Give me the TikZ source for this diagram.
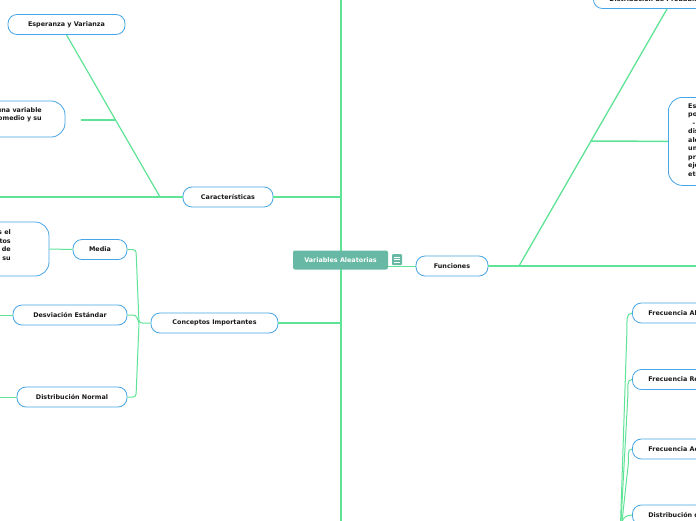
\documentclass[tikz,border=0pt]{standalone}
\usepackage{fontspec}
\setmainfont{DejaVu Sans}
\begin{document}
\begin{tikzpicture}[x=1pt,y=-1pt,
  font=\fontsize{6.4}{8.5}\selectfont\bfseries,
  link/.style={draw=lgreen,line width=1.2pt},
  thin link/.style={draw=lgreen,line width=1pt},
  topic/.style={draw=nblue,line width=0.8pt,fill=white,rounded corners=9pt,minimum height=20pt,inner xsep=16pt,inner ysep=0pt,text=black!90},
  bigbox/.style={draw=nblue,line width=0.8pt,fill=white,rounded corners=14pt},
  central/.style={fill=cteal,rounded corners=2pt,text=white,minimum height=19pt,minimum width=95pt,inner sep=0pt}
]
\definecolor{lgreen}{RGB}{95,227,150}
\definecolor{nblue}{RGB}{70,165,230}
\definecolor{cteal}{RGB}{103,185,165}
\useasboundingbox (0,0) rectangle (696,520);
\clip (0,0) rectangle (696,520);
\fill[white] (0,0) rectangle (696,520);

% coordinates
\coordinate (stemtop) at (341,-10);
\coordinate (stembot) at (341,530);
\coordinate (jcar) at (341,197);
\coordinate (jcon) at (341,323);
\coordinate (leftend) at (-5,197);
\coordinate (bcar) at (160,197);
\coordinate (besp) at (115,120);
\coordinate (gapend) at (81,120);
\coordinate (rightend) at (705,266);
\coordinate (bfun) at (519,266);
\coordinate (bdesc) at (591,141);
\coordinate (fstart) at (388,266);
\coordinate (fbase) at (620,540);

% main stem
\draw[link,line width=1.4pt] (stemtop) -- (stembot);

% connector root -> Funciones (under the icon)
\draw[thin link,line width=1pt] (fstart) -- (416,266);

% nodes
\node[central] (root) at (340.5,260) {Variables Aleatorias};
\node[fill=cteal,rounded corners=1pt,minimum width=10pt,minimum height=11pt,inner sep=0pt] (icon) at (397,259.5) {};
\foreach \yy in {-2.5,0,2.5}{\draw[white,line width=0.6pt] ([xshift=-2.8pt,yshift=\yy pt]icon.center) -- ([xshift=2.8pt,yshift=\yy pt]icon.center);}

\node[topic,minimum width=90pt] (car) at (228,197) {Características};
\node[topic,minimum width=127pt] (conc) at (214.5,323) {Conceptos Importantes};
\node[topic,minimum width=72pt] (fun) at (452,266) {Funciones};
\node[topic,minimum width=117pt] (esp) at (66.5,24.5) {Esperanza y Varianza};
\node[topic,minimum width=54pt] (media) at (100,249.5) {Media};
\node[topic,minimum width=114pt] (desv) at (70,315) {Desviación Estándar};
\node[topic,minimum width=110pt] (dnorm) at (72,397) {Distribución Normal};

% clipped boxes on the left
\node[bigbox,minimum width=120pt,minimum height=36pt] (espdesc) at (5,119) {};
\node[align=right,anchor=east,inner sep=0pt,text=black!90] (espdesctxt) at (42,115) {Es una variable\\el promedio y su};
\node[bigbox,minimum width=110pt,minimum height=54pt] (mediadesc) at (-6,249) {};
\node[align=right,anchor=east,inner sep=0pt,text=black!90] (mediadesctxt) at (11,246) {es el\\datos\\de\\y su};

% clipped nodes on the right
\node[topic,anchor=west,minimum width=150pt,text width=118pt,align=left] (dprob) at (593,-1.5) {Distribución de Probabilidad};
\node[bigbox,anchor=north west,minimum width=150pt,minimum height=88pt] (fdesc) at (668,97) {};
\node[anchor=north west,align=left,inner sep=0pt,text=black!90] (fdesctxt) at (688,103) {Es la función que\\posibles valores\\\ \ - de la\\distribución de\\aleatoria, es\\una\\probabilidad\\ejemplo\\etc.};
\node[topic,anchor=west,minimum width=150pt,text width=118pt,align=left] (fa) at (632,313) {Frecuencia Absoluta};
\node[topic,anchor=west,minimum width=150pt,text width=118pt,align=left] (fr) at (632,379.5) {Frecuencia Relativa};
\node[topic,anchor=west,minimum width=150pt,text width=118pt,align=left] (fac) at (632,449) {Frecuencia Acumulada};
\node[topic,anchor=west,minimum width=150pt,text width=118pt,align=left] (dfrec) at (632,515) {Distribución de Frecuencias};

% connectors: root
\draw[link,rounded corners=3pt] (car.east) -- (jcar);
\draw[link,rounded corners=3pt] (conc.east) -- (jcon);

% Caracteristicas branch
\draw[link] (car.west) -- (leftend);
\draw[link] (bcar) -- (esp.south);
\draw[link] (besp) -- (gapend);

% Conceptos branch
\draw[thin link,rounded corners=3pt] (media.east) -- (136,249.5) -- (139,323) -- (conc.west);
\draw[thin link,rounded corners=3pt] (desv.east) -- (136,315) -- (139,323);
\draw[thin link,rounded corners=3pt] (dnorm.east) -- (136,397) -- (139,323);
\draw[thin link] (media.west) -- (mediadesc.east);
\draw[thin link] (desv.west) -- (-5,315);
\draw[thin link] (dnorm.west) -- (-5,397);

% Funciones branch
\draw[link,line width=2pt] (fun.east) -- (rightend);
\draw[link,line width=1.3pt] (bfun) -- (667,9);
\draw[link,line width=1.5pt] (bdesc) -- (fdesc.west);

% frecuencias bundle
\draw[thin link] (fbase) -- (627,328) to[out=90,in=180] (fa.west);
\draw[thin link] (fbase) -- (628,393) to[out=90,in=180] (fr.west);
\draw[thin link] (fbase) -- (628.5,462) to[out=90,in=180] (fac.west);
\draw[thin link] (fbase) -- (622,522) to[out=80,in=180] (dfrec.west);
\end{tikzpicture}
\end{document}
